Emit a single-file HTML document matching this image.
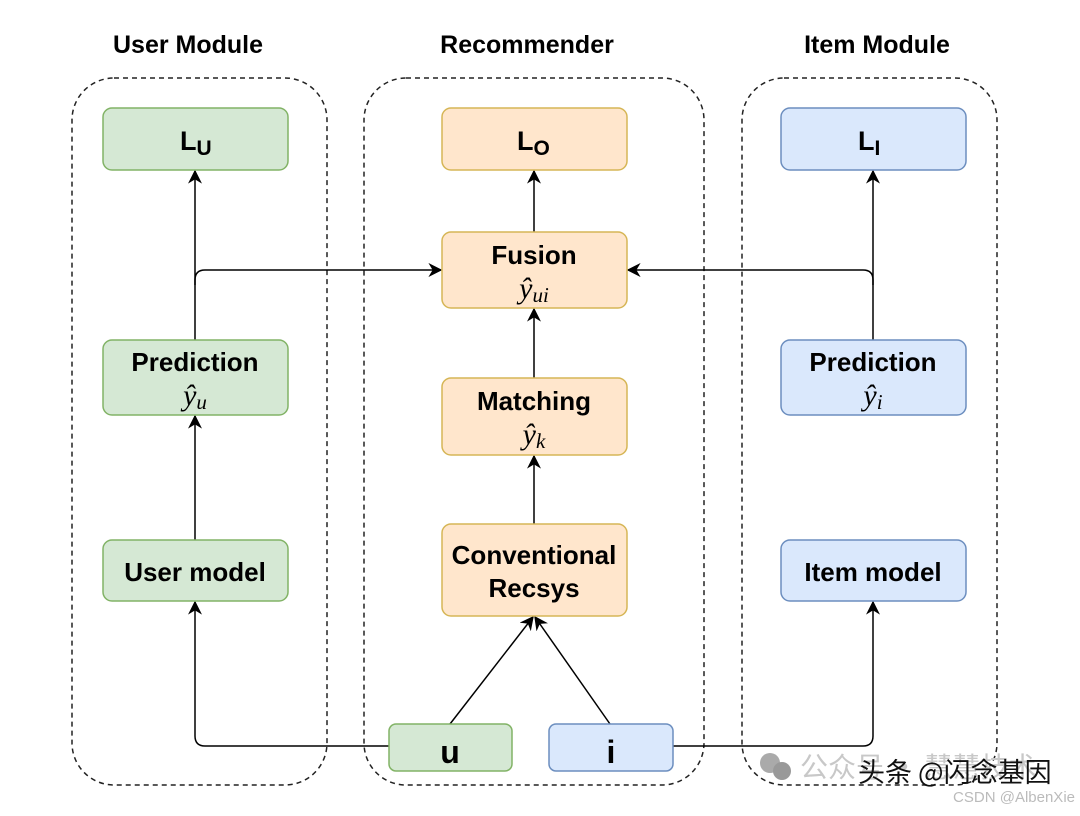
<!DOCTYPE html>
<html><head><meta charset="utf-8"><style>
html,body{margin:0;padding:0;background:#fff;}
svg text{font-family:"Liberation Sans",sans-serif;font-weight:bold;fill:#000;}
.m{font-family:"Liberation Serif",serif;font-style:italic;font-weight:normal;}
</style></head><body>
<svg width="1080" height="811" viewBox="0 0 1080 811" xmlns="http://www.w3.org/2000/svg">
<defs><marker id="a" viewBox="0 0 10 10" refX="9" refY="5" markerWidth="14" markerHeight="14" markerUnits="userSpaceOnUse" orient="auto"><path d="M0,0 L10,5 L0,10 L3,5 z" fill="#000"/></marker></defs>
<text x="188" y="53" font-size="25" text-anchor="middle">User Module</text>
<text x="527" y="53" font-size="25" text-anchor="middle">Recommender</text>
<text x="877" y="53" font-size="25" text-anchor="middle">Item Module</text>
<g fill="none" stroke="#222" stroke-width="1.5" stroke-dasharray="5,4">
<rect x="72" y="78" width="255" height="707" rx="42"/>
<rect x="364" y="78" width="340" height="707" rx="42"/>
<rect x="742" y="78" width="255" height="707" rx="42"/>
</g>
<g stroke="#000" stroke-width="1.5" fill="none">
<path d="M195,540 V416" marker-end="url(#a)"/>
<path d="M195,340 V171" marker-end="url(#a)"/>
<path d="M195,285 V280 Q195,270 205,270 H441" marker-end="url(#a)"/>
<path d="M873,340 V171" marker-end="url(#a)"/>
<path d="M873,285 V280 Q873,270 863,270 H628" marker-end="url(#a)"/>
<path d="M534,232 V171" marker-end="url(#a)"/>
<path d="M534,378 V309" marker-end="url(#a)"/>
<path d="M534,524 V456" marker-end="url(#a)"/>
<path d="M450,724 L533,617" marker-end="url(#a)"/>
<path d="M610,724 L535,617" marker-end="url(#a)"/>
<path d="M389,746 H205 Q195,746 195,736 V602" marker-end="url(#a)"/>
<path d="M673,746 H863 Q873,746 873,736 V602" marker-end="url(#a)"/>
</g>
<g stroke-width="1.5">
<rect x="103" y="108" width="185" height="62" rx="9" fill="#d5e8d4" stroke="#82b366"/>
<rect x="103" y="340" width="185" height="75" rx="9" fill="#d5e8d4" stroke="#82b366"/>
<rect x="103" y="540" width="185" height="61" rx="9" fill="#d5e8d4" stroke="#82b366"/>
<rect x="389" y="724" width="123" height="47" rx="7" fill="#d5e8d4" stroke="#82b366"/>
<rect x="442" y="108" width="185" height="62" rx="9" fill="#ffe6cc" stroke="#d6b656"/>
<rect x="442" y="232" width="185" height="76" rx="9" fill="#ffe6cc" stroke="#d6b656"/>
<rect x="442" y="378" width="185" height="77" rx="9" fill="#ffe6cc" stroke="#d6b656"/>
<rect x="442" y="524" width="185" height="92" rx="9" fill="#ffe6cc" stroke="#d6b656"/>
<rect x="781" y="108" width="185" height="62" rx="9" fill="#dae8fc" stroke="#6c8ebf"/>
<rect x="781" y="340" width="185" height="75" rx="9" fill="#dae8fc" stroke="#6c8ebf"/>
<rect x="781" y="540" width="185" height="61" rx="9" fill="#dae8fc" stroke="#6c8ebf"/>
<rect x="549" y="724" width="124" height="47" rx="7" fill="#dae8fc" stroke="#6c8ebf"/>
</g>
<text x="180" y="150" font-size="27">L<tspan font-size="21" dy="5">U</tspan></text>
<text x="517" y="150" font-size="27">L<tspan font-size="21" dy="5">O</tspan></text>
<text x="858" y="150" font-size="27">L<tspan font-size="21" dy="5">I</tspan></text>
<text x="195" y="371" font-size="26" text-anchor="middle">Prediction</text>
<text x="195" y="405" font-size="30" text-anchor="middle" class="m">ŷ<tspan font-size="21" dy="4">u</tspan></text>
<text x="873" y="371" font-size="26" text-anchor="middle">Prediction</text>
<text x="873" y="405" font-size="30" text-anchor="middle" class="m">ŷ<tspan font-size="21" dy="4">i</tspan></text>
<text x="195" y="581" font-size="26" text-anchor="middle">User model</text>
<text x="873" y="581" font-size="26" text-anchor="middle">Item model</text>
<text x="534" y="264" font-size="26" text-anchor="middle">Fusion</text>
<text x="534" y="298" font-size="30" text-anchor="middle" class="m">ŷ<tspan font-size="21" dy="4">ui</tspan></text>
<text x="534" y="410" font-size="26" text-anchor="middle">Matching</text>
<text x="534" y="444" font-size="30" text-anchor="middle" class="m">ŷ<tspan font-size="21" dy="4">k</tspan></text>
<text x="534" y="564" font-size="26" text-anchor="middle">Conventional</text>
<text x="534" y="597" font-size="26" text-anchor="middle">Recsys</text>
<text x="450" y="763" font-size="32" text-anchor="middle">u</text>
<text x="611" y="763" font-size="32" text-anchor="middle">i</text>
<circle cx="770" cy="763" r="10" fill="#aaa"/><circle cx="782" cy="771" r="9" fill="#999"/>
<text x="800" y="777" font-size="28" style="fill:#c8c8c8;font-weight:normal;font-family:'Noto Sans CJK SC',sans-serif">公众号 · 慧慧技术</text>
<text x="858" y="782" font-size="27" style="fill:#111;font-weight:normal;font-family:'Noto Sans CJK SC',sans-serif">头条 @闪念基因</text>
<text x="1075" y="802" font-size="15" text-anchor="end" style="fill:#bbb;font-weight:normal">CSDN @AlbenXie</text>
</svg>
</body></html>
